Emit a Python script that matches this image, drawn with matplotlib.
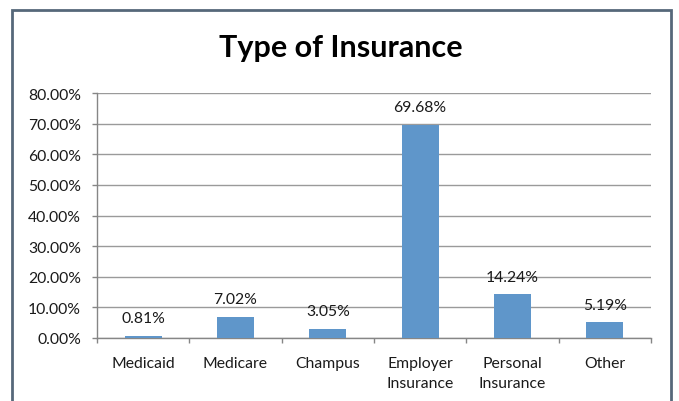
import matplotlib
matplotlib.use('Agg')
import matplotlib.pyplot as plt
from matplotlib.patches import Rectangle
from matplotlib.ticker import FuncFormatter, FixedLocator
import numpy as np

# data
categories = ["Medicaid", "Medicare", "Champus", "Employer\nInsurance",
              "Personal\nInsurance", "Other"]
shares = [0.81, 7.02, 3.05, 69.68, 14.24, 5.19]   # percent
y_ticks = [0, 10, 20, 30, 40, 50, 60, 70, 80]

plt.rcParams['font.family'] = ['Lato', 'DejaVu Sans']

W, H = 679, 402
fig = plt.figure(figsize=(W / 100, H / 100), dpi=100)

# outer chart border (Excel style)
fig.patches.append(Rectangle((12 / W, -0.05), 659 / W, 1.05 - 11 / H,
                             transform=fig.transFigure, fill=False,
                             edgecolor='#56687a', linewidth=2.0))

ax = fig.add_axes([97 / W, 63 / H, 554 / W, 245 / H])

x = np.arange(len(categories))
bars = ax.bar(x, shares, width=0.4, color='#5f96ca', zorder=3)

for xi, v in zip(x, shares):
    ax.text(xi, v + 3.4, f"{v:.2f}%", ha='center', va='bottom',
            fontsize=11.3, color='#1a1a1a', zorder=4)

ax.set_xlim(-0.5, len(categories) - 0.5)
ax.set_ylim(0, 80)
ax.set_yticks(y_ticks)
ax.yaxis.set_major_formatter(FuncFormatter(lambda v, p: f"{v:.2f}%"))
ax.grid(axis='y', color='#9a9a9a', linewidth=1.0, zorder=0)

ax.set_xticks(x)
ax.set_xticklabels(categories, fontsize=11.3, color='#1a1a1a', linespacing=1.55)
ax.xaxis.set_minor_locator(FixedLocator(np.arange(-0.5, len(categories), 1.0)))
ax.tick_params(axis='x', which='major', length=0, pad=13)
ax.tick_params(axis='x', which='minor', length=3.6, color='#868686', width=1.0)
ax.tick_params(axis='y', length=3.6, color='#868686', width=1.0,
               labelsize=11.3, labelcolor='#1a1a1a', pad=8)

for side in ['top', 'right']:
    ax.spines[side].set_visible(False)
for side in ['left', 'bottom']:
    ax.spines[side].set_color('#868686')
    ax.spines[side].set_linewidth(1.0)

fig.text(340.5 / W, 1 - 48 / H, "Type of Insurance", ha='center', va='center',
         fontsize=22, fontweight='bold', color='black')

fig.savefig("out.png", dpi=100)
